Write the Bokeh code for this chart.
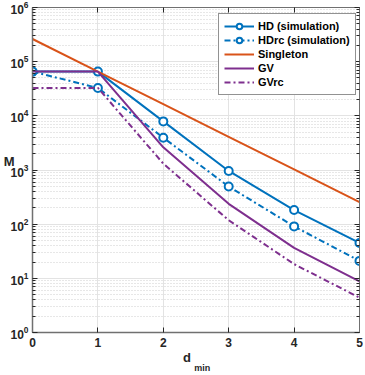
from bokeh.plotting import figure
from bokeh.models import (Range1d, FixedTicker, LogAxis, LinearAxis, Legend, LegendItem)
from bokeh.embed import file_html
from bokeh.resources import INLINE

# ---- data ----
d_min = [0, 1, 2, 3, 4, 5]
hd_sim = [65536, 65536, 7900, 960, 182, 45]
hd_rc_sim = [65536, 32768, 3950, 495, 91, 21]
singleton = [262144, 65536, 16384, 4096, 1024, 256]
gv = [65536, 65536, 2621, 237, 36.6, 8.8]
gv_rc = [32768, 32768, 1311, 118, 18.3, 4.4]

x_ticks = [0, 1, 2, 3, 4, 5]
y_ticks = [1, 10, 100, 1000, 10000, 100000, 1000000]

BLUE = "#0072BD"
ORANGE = "#D95319"
PURPLE = "#7E2F8E"
FONT = "Liberation Sans"
AX = "#262626"
AXL = "#707070"
NB = "\u00a0"

p = figure(width=363, height=375, y_axis_type="log", output_backend="svg",
           toolbar_location=None, x_range=Range1d(0, 5), y_range=Range1d(1, 1e6),
           min_border_left=32, min_border_right=4, min_border_top=7, min_border_bottom=37)
p.outline_line_color = AXL
p.outline_line_width = 1

minor = [m * t for t in y_ticks[:-1] for m in range(2, 10)]
p.yaxis.ticker = FixedTicker(ticks=y_ticks, minor_ticks=minor)
p.xaxis.ticker = FixedTicker(ticks=x_ticks)

for ax in p.xaxis + p.yaxis:
    ax.axis_line_color = AXL
    ax.axis_line_width = 1.5
    ax.major_tick_in = 5
    ax.major_tick_out = 0
    ax.minor_tick_in = 3
    ax.minor_tick_out = 0
    ax.major_tick_line_color = AX
    ax.minor_tick_line_color = AX
    ax.major_label_text_font = FONT
    ax.major_label_text_font_style = "bold"
    ax.major_label_text_font_size = "12px"
    ax.major_label_text_color = AX
    ax.axis_label_text_font = FONT
    ax.axis_label_text_font_style = "bold"
    ax.axis_label_text_color = AX
p.xaxis.minor_tick_in = 0
p.yaxis.major_label_standoff = 4
p.xaxis.major_label_standoff = 5

# axis titles
p.yaxis.axis_label = "M\n" + NB
p.yaxis.axis_label_orientation = "horizontal"
p.yaxis.axis_label_text_font_size = "13px"
p.yaxis.axis_label_standoff = -7
p.xaxis.axis_label = "d" + NB * 5
p.xaxis.axis_label_text_font_size = "13px"
p.xaxis.axis_label_standoff = 0

sub_ax = LinearAxis(ticker=FixedTicker(ticks=[]), axis_line_color=None, major_tick_in=0,
                    major_tick_out=0, minor_tick_in=0, minor_tick_out=0, major_label_standoff=0,
                    axis_label=NB * 5 + "min", axis_label_standoff=-5,
                    axis_label_text_font=FONT, axis_label_text_font_style="bold",
                    axis_label_text_font_size="9px", axis_label_text_color=AX)
p.add_layout(sub_ax, "below")

# box ticks on right and top (labels hidden)
ra = LogAxis(ticker=FixedTicker(ticks=y_ticks, minor_ticks=minor), major_label_text_font_size="1px",
             major_label_text_alpha=0, major_label_standoff=0, major_tick_in=5, major_tick_out=0,
             minor_tick_in=3, minor_tick_out=0, axis_line_color=AXL, major_tick_line_color=AX,
             minor_tick_line_color=AX)
p.add_layout(ra, "right")
ta = LinearAxis(ticker=FixedTicker(ticks=x_ticks), major_label_text_font_size="1px",
                major_label_text_alpha=0, major_label_standoff=0, major_tick_in=5, major_tick_out=0,
                minor_tick_in=0, minor_tick_out=0, axis_line_color=AXL, major_tick_line_color=AX)
p.add_layout(ta, "above")

p.xgrid.grid_line_color = "#e3e3e3"
p.ygrid.grid_line_color = "#e3e3e3"
p.ygrid.minor_grid_line_color = "#cfcfcf"
p.ygrid.minor_grid_line_dash = "1 2"

r_hd = p.line(d_min, hd_sim, color=BLUE, line_width=2)
s_hd = p.scatter(d_min, hd_sim, marker="circle", size=8, line_color=BLUE, line_width=2, fill_color="white")
r_hdrc = p.line(d_min, hd_rc_sim, color=BLUE, line_width=2, line_dash="6 3 2 3")
s_hdrc = p.scatter(d_min, hd_rc_sim, marker="circle", size=8, line_color=BLUE, line_width=2, fill_color="white")
r_s = p.line(d_min, singleton, color=ORANGE, line_width=2)
r_gv = p.line(d_min, gv, color=PURPLE, line_width=2)
r_gvrc = p.line(d_min, gv_rc, color=PURPLE, line_width=2, line_dash="6 3 2 3")

items = [
    LegendItem(label="HD (simulation)", renderers=[r_hd, s_hd]),
    LegendItem(label="HDrc (simulation)", renderers=[r_hdrc, s_hdrc]),
    LegendItem(label="Singleton", renderers=[r_s]),
    LegendItem(label="GV", renderers=[r_gv]),
    LegendItem(label="GVrc", renderers=[r_gvrc]),
]
leg = Legend(items=items, location=(186, 237), padding=5, spacing=0, glyph_width=30,
             glyph_height=14, label_height=14, label_standoff=4,
             label_text_font=FONT, label_text_font_style="bold", label_text_font_size="11px",
             label_text_color="black", border_line_color=AX, border_line_width=1,
             background_fill_color="white", background_fill_alpha=1, margin=0)
p.add_layout(leg)

open("out.html", "w").write(file_html(p, INLINE))
